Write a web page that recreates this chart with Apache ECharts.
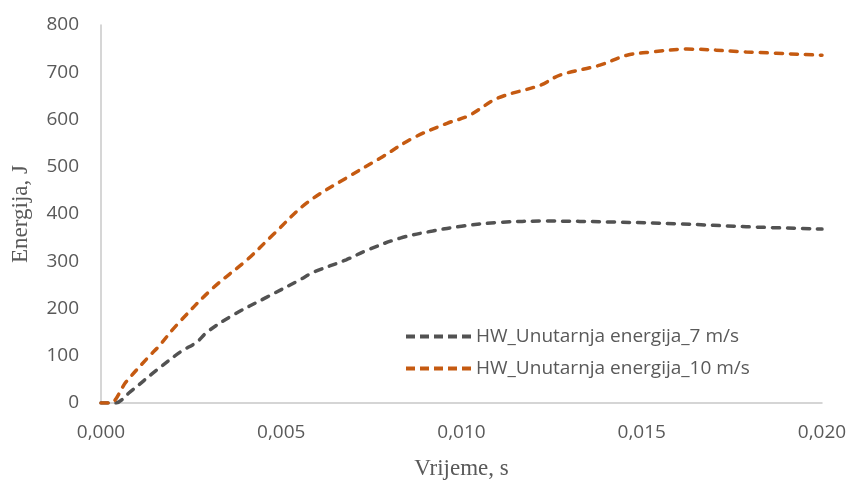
<!DOCTYPE html>
<html>
<head>
<meta charset="utf-8">
<script src="https://cdn.jsdelivr.net/npm/echarts@6/dist/echarts.min.js"></script>
<style>
  html, body { margin: 0; padding: 0; background: #fff; }
  #chart { width: 850px; height: 485px; }
</style>
</head>
<body>
<div id="chart"></div>
<script>
// Time (s) and internal energy (J) for the two impact speeds
const time7 = [0, 0.00039, 0.0008, 0.00155, 0.0022, 0.00266, 0.00294, 0.00366, 0.0046, 0.0055, 0.0059, 0.0068, 0.0074, 0.0083, 0.0092, 0.0100, 0.0110, 0.01237, 0.0142, 0.01606, 0.0179, 0.0200];
const energy7 = [0, 0, 23, 70, 108, 129, 150, 186, 224, 260, 277, 303, 324, 349, 364, 374, 382, 385, 383, 379, 373, 368];

const time10 = [0, 0.00025, 0.0007, 0.00136, 0.00158, 0.0021, 0.0031, 0.00405, 0.00477, 0.0057, 0.0068, 0.00774, 0.00866, 0.0096, 0.0102, 0.0110, 0.0122, 0.01273, 0.01384, 0.01459, 0.0153, 0.01625, 0.0179, 0.0200];
const energy10 = [0, 0, 45, 101, 118, 165, 243, 303, 356, 423, 476, 518, 561, 592, 608, 645, 673, 694, 715, 736, 743, 749, 743, 736];

const seriesNames = ['HW_Unutarnja energija_7 m/s', 'HW_Unutarnja energija_10 m/s'];
const seriesColors = ['#525252', '#C55A11'];

const pairs = (xs, ys) => xs.map((x, i) => [x, ys[i]]);

// Dashed-line legend key: five short bars
const dashIcon = 'path://M0,0h9v4h-9z M14,0h9v4h-9z M28,0h9v4h-9z M42,0h9v4h-9z M56,0h9v4h-9z';

const chart = echarts.init(document.getElementById('chart'));
const labelFont = { color: '#595959', fontSize: 19, fontFamily: '"Open Sans", "Liberation Sans", sans-serif' };
const titleFont = { color: '#595959', fontSize: 23, fontFamily: '"Liberation Serif", "DejaVu Serif", serif' };

function lineSeries(name, color, data) {
  return {
    name: name,
    type: 'line',
    data: data,
    smooth: 0.35,
    symbol: 'none',
    lineStyle: { color: color, width: 3.5, type: [7, 8], cap: 'round' },
    itemStyle: { color: color }
  };
}

chart.setOption({
  animation: false,
  backgroundColor: '#ffffff',
  grid: { left: 101, right: 28, top: 25, bottom: 82, outerBoundsMode: 'none', containLabel: false },
  legend: {
    data: seriesNames.map(n => ({ name: n, icon: dashIcon })),
    orient: 'vertical',
    left: 401,
    top: 322,
    itemWidth: 65,
    itemHeight: 4,
    itemGap: 13,
    textStyle: labelFont
  },
  xAxis: {
    type: 'value',
    min: 0,
    max: 0.02,
    interval: 0.005,
    name: 'Vrijeme, s',
    nameLocation: 'middle',
    nameGap: 54,
    nameTextStyle: titleFont,
    axisLine: { show: true, lineStyle: { color: '#C8C8C8', width: 1.5 } },
    axisTick: { show: false },
    splitLine: { show: false },
    axisLabel: Object.assign({
      margin: 20,
      formatter: v => v.toFixed(3).replace('.', ',')
    }, labelFont)
  },
  yAxis: {
    type: 'value',
    min: 0,
    max: 800,
    interval: 100,
    name: 'Energija, J',
    nameLocation: 'middle',
    nameGap: 69,
    nameTextStyle: titleFont,
    axisLine: { show: true, lineStyle: { color: '#C8C8C8', width: 1.5 } },
    axisTick: { show: false },
    splitLine: { show: false },
    axisLabel: Object.assign({ margin: 22 }, labelFont)
  },
  series: [
    lineSeries(seriesNames[0], seriesColors[0], pairs(time7, energy7)),
    lineSeries(seriesNames[1], seriesColors[1], pairs(time10, energy10))
  ]
});
</script>
</body>
</html>
